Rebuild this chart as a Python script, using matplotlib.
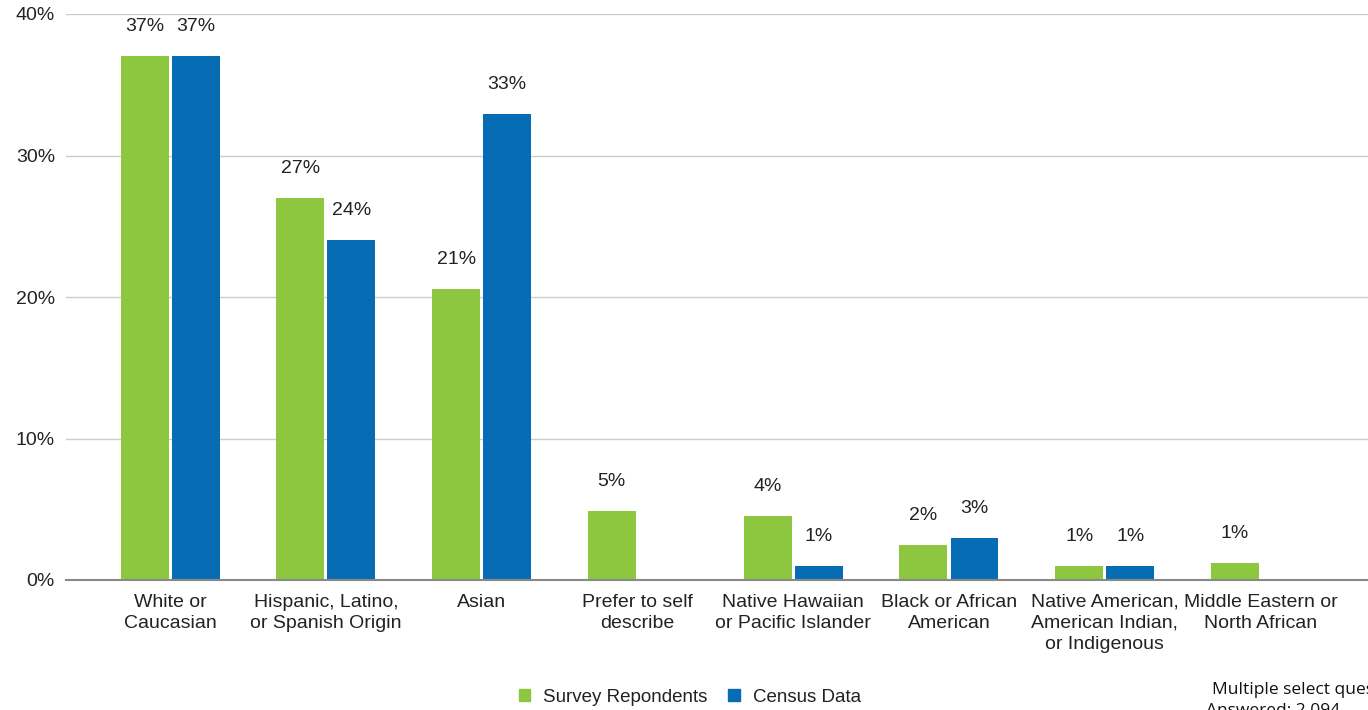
import matplotlib
matplotlib.use("Agg")
import matplotlib.pyplot as plt
import numpy as np
from matplotlib.patches import Patch

categories = ["White or\nCaucasian", "Hispanic, Latino,\nor Spanish Origin", "Asian",
              "Prefer to self\ndescribe", "Native Hawaiian\nor Pacific Islander",
              "Black or African\nAmerican", "Native American,\nAmerican Indian,\nor Indigenous",
              "Middle Eastern or\nNorth African"]
survey = [37.0, 27.0, 20.6, 4.9, 4.5, 2.5, 1.0, 1.2]
census = [37.0, 24.0, 32.9, None, 1.0, 3.0, 1.0, None]
survey_labels = ["37%", "27%", "21%", "5%", "4%", "2%", "1%", "1%"]
census_labels = ["37%", "24%", "33%", "", "1%", "3%", "1%", ""]
yticks = [0, 10, 20, 30, 40]
ytick_labels = ["0%", "10%", "20%", "30%", "40%"]

GREEN = "#8DC63F"
BLUE = "#066CB4"
FS = 14

plt.rcParams['font.family'] = ['Liberation Sans', 'DejaVu Sans']

fig = plt.figure(figsize=(13.68, 7.10), dpi=100)
ax = fig.add_axes([66/1368, 1-580/710, 1-66/1368, 566/710])

x = np.arange(len(categories))
w = 0.308
off = 0.164
for i in range(len(categories)):
    if survey[i] is not None:
        ax.bar(x[i]-off, survey[i], width=w, color=GREEN, zorder=3)
        ax.annotate(survey_labels[i], (x[i]-off, survey[i]), xytext=(0, 21),
                    textcoords="offset pixels", ha="center", va="bottom",
                    fontsize=FS, color="#222222")
    if census[i] is not None:
        ax.bar(x[i]+off, census[i], width=w, color=BLUE, zorder=3)
        ax.annotate(census_labels[i], (x[i]+off, census[i]), xytext=(0, 21),
                    textcoords="offset pixels", ha="center", va="bottom",
                    fontsize=FS, color="#222222")

ax.set_xlim(-0.668, 7.69)
ax.set_ylim(0, 40)
ax.set_yticks(yticks)
ax.set_yticklabels(ytick_labels, fontsize=FS, color="#222222")
ax.set_xticks(x)
ax.set_xticklabels(categories, fontsize=FS, color="#222222", linespacing=1.3)
ax.tick_params(axis="both", length=0)
ax.tick_params(axis="y", pad=8)
ax.tick_params(axis="x", pad=10)
ax.yaxis.grid(True, color="#CCCCCC", linewidth=1, zorder=0)
ax.set_axisbelow(True)
for s in ["top", "right", "left"]:
    ax.spines[s].set_visible(False)
ax.spines["bottom"].set_color("#888888")
ax.spines["bottom"].set_linewidth(1.5)
ax.spines["bottom"].set_zorder(4)

handles = [Patch(color=GREEN, label="Survey Repondents"), Patch(color=BLUE, label="Census Data")]
fig.legend(handles=handles, loc="center", bbox_to_anchor=(690/1368, 1-697/710), ncol=2,
           frameon=False, fontsize=13.5, handlelength=0.6, handleheight=0.6,
           handletextpad=0.7, columnspacing=1.1, labelcolor="#222222")

fig.text(1212/1368, 1-690/710, "Multiple select question", fontsize=12.5,
         family=["Open Sans", "DejaVu Sans"], ha="left", va="center", color="#111111")
fig.text(1206/1368, 1-711/710, "Answered: 2,094", fontsize=12.5,
         family=["Open Sans", "DejaVu Sans"], ha="left", va="center", color="#111111")

fig.savefig("out.png", dpi=100)
